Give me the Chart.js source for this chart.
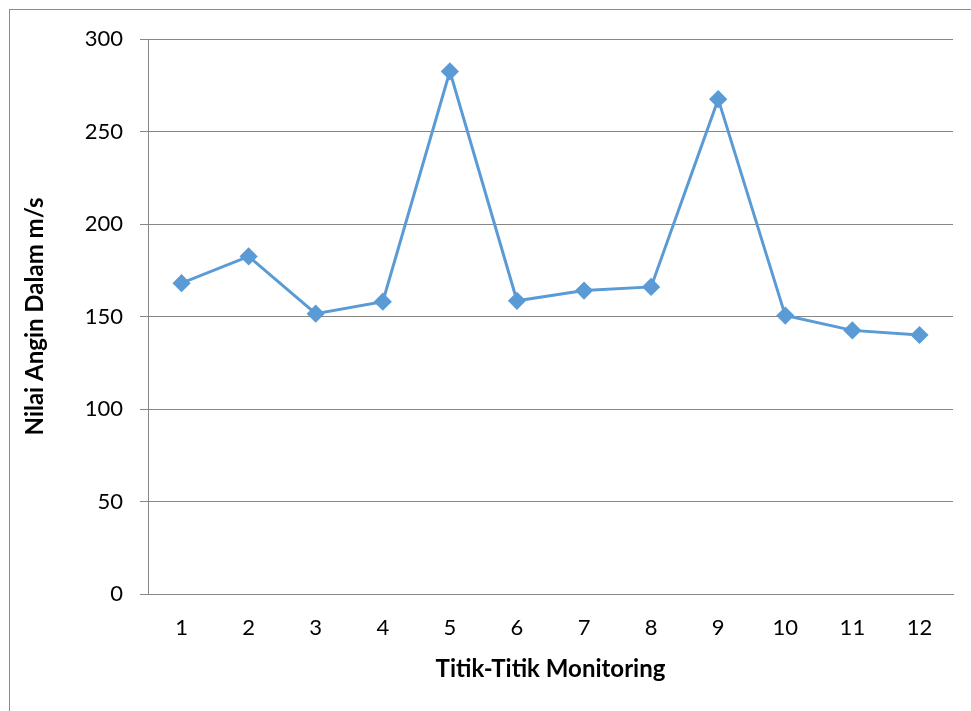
<!DOCTYPE html>
<html>
<head>
<meta charset="utf-8">
<script src="https://cdn.jsdelivr.net/npm/chart.js@4/dist/chart.umd.min.js"></script>
<style>
  html, body { margin: 0; padding: 0; background: #ffffff; }
  #wrap { width: 971px; height: 711px; position: relative; }
</style>
</head>
<body>
<div id="wrap"><canvas id="chart" width="971" height="711"></canvas></div>
<script>
// Monitoring points and measured wind values
const titikLabels = ['1', '2', '3', '4', '5', '6', '7', '8', '9', '10', '11', '12'];
const nilaiAngin = [168, 182.5, 151.5, 158, 282.5, 158.5, 164, 166, 267.5, 150.5, 142.5, 140];
const yTicks = [0, 50, 100, 150, 200, 250, 300];

const FONT = 'Lato, "Open Sans", sans-serif';
const AXIS_GREY = '#868686';

// Thin frame around the whole chart
const framePlugin = {
  id: 'frame',
  beforeDraw(chart) {
    const ctx = chart.ctx;
    ctx.save();
    ctx.fillStyle = '#ffffff';
    ctx.fillRect(0, 0, chart.width, chart.height);
    ctx.strokeStyle = '#8c8c8c';
    ctx.lineWidth = 1;
    ctx.strokeRect(9.5, 9.5, chart.width + 20, chart.height + 20);
    ctx.restore();
  }
};

new Chart(document.getElementById('chart'), {
  type: 'line',
  data: {
    labels: titikLabels,
    datasets: [{
      data: nilaiAngin,
      borderColor: '#5b9bd5',
      backgroundColor: '#5b9bd5',
      borderWidth: 3,
      pointStyle: 'rectRot',
      pointRadius: 7,
      pointHoverRadius: 7,
      tension: 0
    }]
  },
  options: {
    responsive: false,
    animation: false,
    devicePixelRatio: 1,
    layout: { padding: { top: 39, right: 18, left: 0, bottom: 0 } },
    plugins: {
      legend: { display: false },
      tooltip: { enabled: false }
    },
    scales: {
      x: {
        type: 'category',
        offset: true,
        grid: { display: false, drawTicks: false },
        border: { display: true, color: AXIS_GREY, width: 1 },
        ticks: { color: '#000', font: { family: FONT, size: 22 }, padding: 21, maxRotation: 0 },
        title: {
          display: true,
          text: 'Titik-Titik Monitoring',
          color: '#000',
          font: { family: FONT, size: 24, weight: 'bold' },
          padding: { top: 0, bottom: 27 }
        },
        afterFit(scale) { scale.height = 117; }
      },
      y: {
        min: 0,
        max: 300,
        afterBuildTicks(scale) { scale.ticks = yTicks.map(v => ({ value: v })); },
        grid: { color: AXIS_GREY, lineWidth: 1, drawTicks: true, tickLength: 8, tickColor: AXIS_GREY },
        border: { display: true, color: AXIS_GREY, width: 1 },
        ticks: { color: '#000', font: { family: FONT, size: 22 }, padding: 17 },
        title: {
          display: true,
          text: 'Nilai Angin Dalam m/s',
          color: '#000',
          font: { family: FONT, size: 24, weight: 'bold' },
          padding: { top: 21, bottom: 0 }
        },
        afterFit(scale) { scale.width = 148; }
      }
    }
  },
  plugins: [framePlugin]
});
</script>
</body>
</html>
